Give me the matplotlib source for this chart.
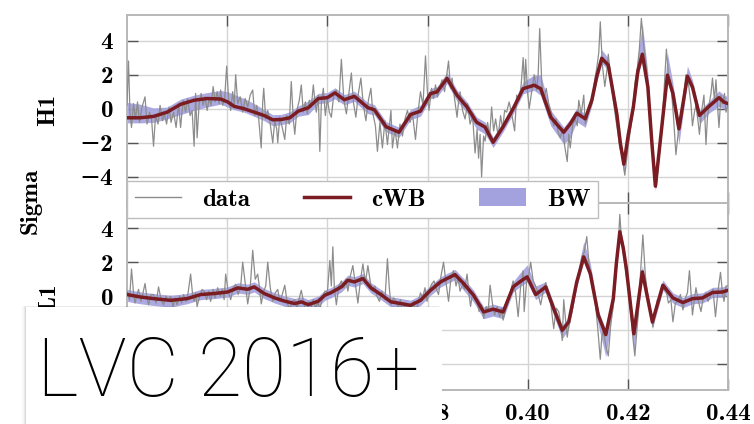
import numpy as np
import matplotlib
matplotlib.use("Agg")
import matplotlib.pyplot as plt
from matplotlib.patches import Rectangle, Patch
from matplotlib.lines import Line2D

plt.rcParams["font.family"] = ["cmb10", "DejaVu Serif"]
plt.rcParams["axes.formatter.use_mathtext"] = False
plt.rcParams["axes.unicode_minus"] = True

# ---------------- H1 ----------------
h1_cwb_t = [0.3200, 0.3226, 0.3253, 0.3280, 0.3307, 0.3334, 0.3360, 0.3387, 0.3401, 0.3414,
            0.3434, 0.3454, 0.3474, 0.3491, 0.3508, 0.3525, 0.3542, 0.3562, 0.3582, 0.3600,
            0.3615, 0.3634, 0.3654, 0.3681, 0.3694, 0.3717, 0.3743, 0.3766, 0.3786, 0.3806,
            0.3819, 0.3839, 0.3859, 0.3879, 0.3898, 0.3915, 0.3931, 0.3951, 0.3971, 0.3991,
            0.4013, 0.4026, 0.4046, 0.4072, 0.4085, 0.4098, 0.4115, 0.4128, 0.4138, 0.4148,
            0.4161, 0.4178, 0.4185, 0.4192, 0.4201, 0.4211, 0.4220, 0.4229, 0.4240, 0.4248,
            0.4255, 0.4267, 0.4279, 0.4290, 0.4302, 0.4319, 0.4329, 0.4343, 0.4362, 0.4382,
            0.4392, 0.4400]
h1_cwb = [-0.53, -0.53, -0.45, -0.20, 0.26, 0.50, 0.60, 0.57, 0.40, 0.14,
          0.00, -0.20, -0.40, -0.65, -0.63, -0.53, -0.14, 0.06, 0.60, 0.65,
          0.93, 0.53, 0.73, 0.06, -0.06, -1.05, -1.38, -0.34, -0.14, 0.89,
          0.99, 1.78, 0.79, 0.10, -0.79, -1.08, -1.97, -1.05, 0.00, 1.18,
          1.38, 1.18, -0.49, -1.38, -0.89, -0.26, -0.59, 0.49, 1.90, 2.96,
          2.56, -0.30, -2.00, -3.25, -1.50, 0.10, 2.20, 3.20, 1.28, -2.00,
          -4.54, -1.28, 1.97, 0.89, -1.18, 1.91, 1.28, -0.39, 0.14, 0.65,
          0.39, 0.30]
h1_bw_up = [0.9, 0.8, 0.5, 0.3, 0.3, 0.3, 0.35, 0.5, 0.6, 0.7,
            0.6, 0.5, 0.35, 0.3, 0.3, 0.35, 0.3, 0.4, 0.3, 0.3,
            0.3, 0.3, 0.3, 0.3, 0.3, 0.3, 0.3, 0.3, 0.35, 0.3,
            0.3, 0.35, 0.3, 0.3, 0.3, 0.3, 0.3, 0.3, 0.3, 0.4,
            0.6, 0.8, 0.4, 0.3, 0.3, 0.3, 0.3, 0.4, 0.5, 0.5,
            0.4, 0.3, 0.3, 0.3, 0.3, 0.4, 0.9, 1.8, 0.8, 0.3,
            0.3, 0.4, 1.3, 0.6, 0.3, 0.6, 0.4, 0.3, 0.3, 0.4,
            0.4, 0.4]
h1_bw_dn = [0.3, 0.3, 0.35, 0.4, 0.6, 0.6, 0.5, 0.3, 0.3, 0.2,
            0.2, 0.25, 0.3, 0.35, 0.3, 0.3, 0.3, 0.4, 0.3, 0.3,
            0.35, 0.3, 0.3, 0.35, 0.3, 0.3, 0.3, 0.3, 0.3, 0.3,
            0.3, 0.3, 0.35, 0.35, 0.4, 0.4, 0.3, 0.3, 0.3, 0.3,
            0.3, 0.4, 0.5, 0.7, 0.8, 0.5, 0.5, 0.3, 0.3, 0.3,
            0.3, 0.4, 0.6, 0.6, 0.4, 0.3, 0.3, 0.3, 0.3, 0.4,
            0.3, 0.3, 0.3, 0.4, 0.9, 0.3, 0.3, 0.5, 0.4, 0.5,
            0.4, 0.4]

h1_data_t = [0.3200, 0.3203, 0.3206, 0.3209, 0.3213, 0.3217, 0.3221, 0.3225, 0.3230, 0.3236,
             0.3240, 0.3245, 0.3249, 0.3253, 0.3257, 0.3262, 0.3266, 0.3271, 0.3275, 0.3279,
             0.3284, 0.3288, 0.3293, 0.3298, 0.3303, 0.3307, 0.3312, 0.3317, 0.3321, 0.3326,
             0.3330, 0.3334, 0.3337, 0.3340, 0.3344, 0.3348, 0.3352, 0.3356, 0.3360, 0.3364,
             0.3368, 0.3372, 0.3376, 0.3380, 0.3384, 0.3387, 0.3391, 0.3395, 0.3399, 0.3403,
             0.3407, 0.3411, 0.3414, 0.3417, 0.3421, 0.3426, 0.3431, 0.3436, 0.3441, 0.3446,
             0.3451, 0.3455, 0.3459, 0.3463, 0.3468, 0.3471, 0.3473, 0.3477, 0.3481, 0.3486,
             0.3491, 0.3495, 0.3499, 0.3501, 0.3505, 0.3510, 0.3515, 0.3519, 0.3524, 0.3528,
             0.3532, 0.3535, 0.3539, 0.3544, 0.3548, 0.3552, 0.3556, 0.3560, 0.3564, 0.3568,
             0.3572, 0.3575, 0.3578, 0.3582, 0.3585, 0.3588, 0.3592, 0.3596, 0.3600, 0.3604,
             0.3608, 0.3613, 0.3618, 0.3623, 0.3628, 0.3633, 0.3638, 0.3643, 0.3648, 0.3652,
             0.3657, 0.3662, 0.3667, 0.3672, 0.3677, 0.3682, 0.3687, 0.3691, 0.3696, 0.3700,
             0.3705, 0.3710, 0.3715, 0.3720, 0.3724, 0.3727, 0.3730, 0.3735, 0.3740, 0.3745,
             0.3750, 0.3755, 0.3760, 0.3765, 0.3770, 0.3776, 0.3781, 0.3786, 0.3791, 0.3796,
             0.3800, 0.3803, 0.3808, 0.3812, 0.3816, 0.3820, 0.3825, 0.3829, 0.3834, 0.3838,
             0.3842, 0.3846, 0.3849, 0.3854, 0.3859, 0.3862, 0.3865, 0.3870, 0.3875, 0.3880,
             0.3885, 0.3890, 0.3895, 0.3899, 0.3902, 0.3905, 0.3908, 0.3912, 0.3915, 0.3920,
             0.3924, 0.3928, 0.3932, 0.3936, 0.3941, 0.3946, 0.3950, 0.3954, 0.3958, 0.3963,
             0.3968, 0.3974, 0.3978, 0.3983, 0.3987, 0.3991, 0.3994, 0.3996, 0.4000, 0.4003,
             0.4008, 0.4013, 0.4018, 0.4021, 0.4024, 0.4028, 0.4032, 0.4037, 0.4042, 0.4047,
             0.4052, 0.4057, 0.4061, 0.4065, 0.4070, 0.4074, 0.4079, 0.4082, 0.4085, 0.4090,
             0.4095, 0.4099, 0.4102, 0.4107, 0.4112, 0.4115, 0.4118, 0.4123, 0.4128, 0.4133,
             0.4138, 0.4142, 0.4145, 0.4149, 0.4154, 0.4158, 0.4161, 0.4166, 0.4171, 0.4176,
             0.4180, 0.4184, 0.4189, 0.4194, 0.4199, 0.4204, 0.4209, 0.4214, 0.4219, 0.4223,
             0.4227, 0.4232, 0.4237, 0.4242, 0.4247, 0.4252, 0.4257, 0.4262, 0.4267, 0.4272,
             0.4277, 0.4281, 0.4286, 0.4291, 0.4296, 0.4301, 0.4306, 0.4311, 0.4316, 0.4320,
             0.4323, 0.4326, 0.4329, 0.4333, 0.4336, 0.4340, 0.4343, 0.4347, 0.4352, 0.4356,
             0.4359, 0.4362, 0.4366, 0.4369, 0.4373, 0.4376, 0.4379, 0.4382, 0.4386, 0.4389,
             0.4393, 0.4396, 0.4400]
h1_data = [0.2, 2.8, -0.3, -1.1, 0.3, -0.6, 0.4, -0.8, 0.1, 0.7,
           -0.9, -0.2, -0.6, -2.2, -0.4, -0.9, 0.2, -0.7, -0.3, -0.9,
           0.1, -0.8, -0.2, -1.1, 0.3, -1.1, 0.5, -0.2, 0.6, -0.4,
           -0.1, -2.2, 0.9, -1.7, 0.3, 0.9, 0.2, 0.7, -0.1, 0.6,
           0.2, 1.3, 0.4, 1.0, 0.3, 1.1, 0.2, 0.6, 2.5, 0.5,
           -0.1, 1.0, 0.2, 2.0, 0.3, 0.7, -0.2, 0.6, 0.1, 0.8,
           1.1, -0.4, 0.2, -0.6, -2.3, 0.4, 1.2, -0.6, -0.1, -0.9,
           -2.0, -0.7, -1.2, -2.0, -0.5, -1.1, -1.8, -0.4, -0.9, 1.6,
           -0.6, -1.5, -0.1, 0.5, 1.4, -0.2, 0.4, -0.3, 0.5, 0.1,
           1.4, 0.5, -0.2, 0.8, -2.5, 0.3, 1.2, -0.4, 0.6, -0.2,
           -0.5, 0.9, 1.1, 0.4, 2.9, 0.5, -0.3, 0.9, 2.1, 0.4,
           -0.5, 0.9, 1.8, 0.2, -0.7, 0.5, 1.2, -0.3, -1.0, -2.5,
           -0.8, -2.3, -0.7, -2.1, -1.0, -0.1, -2.3, -1.2, -2.3, -0.9,
           -1.6, -0.6, -0.1, -0.8, -0.3, -1.8, -0.2, 1.0, 0.2, 3.1,
           0.9, -0.1, 1.2, 0.6, 1.4, 0.7, 1.3, 1.7, 1.0, 1.9,
           2.8, 1.2, 1.8, 0.6, -0.5, 0.4, 1.0, -0.1, -0.6, 0.3,
           -0.9, -0.4, -2.6, -1.2, -2.9, -1.5, -4.0, -1.6, -1.9, -0.8,
           -1.6, 0.1, -1.3, -0.6, -1.6, -0.4, -1.2, -0.1, -0.2, 0.4,
           -0.3, -1.3, 0.8, 0.5, 1.4, 3.0, 1.2, 2.9, 0.9, 0.0,
           1.0, 2.0, 1.1, 2.0, 4.7, 1.6, 0.5, 1.2, 0.3, -0.2,
           -1.0, -0.6, -1.4, -1.7, -1.2, -2.2, -3.1, -1.5, -2.3, -0.9,
           -0.6, -1.0, 0.5, -0.3, 0.8, -0.9, -0.6, 0.2, 0.3, 1.5,
           2.4, 3.3, 5.1, 2.6, 1.3, 2.2, 3.2, 1.6, 0.5, -0.6,
           -1.4, -2.3, -2.8, -3.9, -2.6, -1.5, -0.4, 1.5, 2.4, 3.5,
           5.3, 3.6, 2.5, 0.4, -1.5, -3.4, -4.6, -3.0, -1.5, 0.9,
           3.5, 2.0, 1.5, -0.4, -2.7, -1.3, -0.8, 0.6, 2.0, 1.7,
           1.0, 0.3, -1.0, -0.2, 0.2, -0.7, -1.5, -0.2, 0.8, -2.1,
           -0.5, 0.2, 0.9, 1.8, 0.5, 1.7, 0.2, -1.1, 0.8, 0.3,
           0.9, -0.2, 0.2]

# ---------------- L1 ----------------
l1_cwb_t = [0.3200, 0.3226, 0.3253, 0.3287, 0.3320, 0.3347, 0.3374, 0.3401, 0.3421, 0.3441,
            0.3454, 0.3474, 0.3495, 0.3515, 0.3535, 0.3548, 0.3562, 0.3582, 0.3595, 0.3608,
            0.3628, 0.3641, 0.3654, 0.3671, 0.3687, 0.3707, 0.3727, 0.3747, 0.3766, 0.3786,
            0.3806, 0.3826, 0.3839, 0.3855, 0.3872, 0.3892, 0.3912, 0.3931, 0.3951, 0.3971,
            0.3984, 0.3999, 0.4016, 0.4036, 0.4052, 0.4069, 0.4082, 0.4098, 0.4112, 0.4125,
            0.4141, 0.4156, 0.4171, 0.4177, 0.4184, 0.4191, 0.4197, 0.4212, 0.4229, 0.4249,
            0.4270, 0.4290, 0.4310, 0.4329, 0.4349, 0.4369, 0.4389, 0.4400]
l1_cwb = [0.10, -0.04, -0.14, -0.24, -0.14, 0.10, 0.16, 0.25, 0.49, 0.41,
          0.55, 0.16, -0.10, -0.29, -0.43, -0.33, -0.49, -0.29, 0.06, 0.22,
          0.55, 0.94, 0.84, 1.04, 0.49, 0.10, -0.33, -0.43, -0.53, -0.24,
          0.35, 0.84, 1.04, 1.27, 0.75, 0.06, -0.92, -0.76, -0.92, 0.55,
          0.84, 1.14, 0.10, 0.55, -0.73, -2.00, -1.51, 0.84, 2.31, 1.33,
          -1.12, -2.25, -0.14, 1.90, 3.78, 2.80, 1.63, -2.20, 1.43, -1.51,
          0.65, -0.10, -0.37, -0.14, -0.10, 0.22, 0.25, 0.35]
l1_bw_up = [0.3, 0.3, 0.3, 0.3, 0.3, 0.3, 0.3, 0.3, 0.3, 0.3,
            0.3, 0.3, 0.3, 0.3, 0.3, 0.3, 0.3, 0.3, 0.3, 0.3,
            0.3, 0.3, 0.3, 0.3, 0.3, 0.3, 0.3, 0.3, 0.3, 0.3,
            0.3, 0.3, 0.3, 0.3, 0.3, 0.3, 0.3, 0.3, 0.3, 0.3,
            0.5, 0.7, 0.5, 0.3, 0.3, 0.3, 0.3, 0.4, 0.9, 0.6,
            0.3, 0.3, 0.3, 0.4, 0.4, 0.3, 0.3, 0.3, 0.4, 0.3,
            0.3, 0.3, 0.3, 0.3, 0.3, 0.3, 0.3, 0.3]
l1_bw_dn = [0.4, 0.4, 0.4, 0.4, 0.3, 0.3, 0.3, 0.3, 0.3, 0.3,
            0.3, 0.3, 0.3, 0.3, 0.3, 0.3, 0.3, 0.3, 0.3, 0.3,
            0.3, 0.3, 0.3, 0.3, 0.3, 0.3, 0.3, 0.3, 0.3, 0.3,
            0.3, 0.3, 0.3, 0.3, 0.4, 0.4, 0.4, 0.4, 0.4, 0.3,
            0.3, 0.3, 0.3, 0.3, 0.4, 0.5, 0.4, 0.3, 0.3, 0.3,
            0.6, 1.3, 0.5, 0.3, 0.3, 0.3, 0.3, 1.0, 0.3, 0.4,
            0.3, 0.3, 0.3, 0.3, 0.3, 0.3, 0.3, 0.3]

l1_data_t = [0.3200, 0.3205, 0.3209, 0.3213, 0.3216, 0.3220, 0.3223, 0.3228, 0.3232, 0.3236,
             0.3240, 0.3243, 0.3248, 0.3253, 0.3258, 0.3263, 0.3268, 0.3273, 0.3278, 0.3282,
             0.3287, 0.3292, 0.3296, 0.3300, 0.3305, 0.3309, 0.3313, 0.3318, 0.3322, 0.3327,
             0.3331, 0.3334, 0.3337, 0.3340, 0.3345, 0.3350, 0.3354, 0.3359, 0.3363, 0.3367,
             0.3372, 0.3376, 0.3381, 0.3386, 0.3390, 0.3394, 0.3397, 0.3402, 0.3407, 0.3412,
             0.3417, 0.3422, 0.3427, 0.3431, 0.3436, 0.3441, 0.3446, 0.3451, 0.3456, 0.3461,
             0.3465, 0.3468, 0.3473, 0.3477, 0.3481, 0.3486, 0.3491, 0.3496, 0.3501, 0.3505,
             0.3510, 0.3515, 0.3520, 0.3525, 0.3530, 0.3535, 0.3540, 0.3544, 0.3548, 0.3553,
             0.3558, 0.3563, 0.3568, 0.3572, 0.3577, 0.3581, 0.3585, 0.3590, 0.3595, 0.3600,
             0.3605, 0.3608, 0.3611, 0.3614, 0.3618, 0.3623, 0.3628, 0.3633, 0.3637, 0.3641,
             0.3646, 0.3651, 0.3656, 0.3661, 0.3666, 0.3671, 0.3676, 0.3681, 0.3686, 0.3690,
             0.3695, 0.3699, 0.3704, 0.3709, 0.3715, 0.3720, 0.3724, 0.3727, 0.3732, 0.3737,
             0.3742, 0.3746, 0.3750, 0.3755, 0.3759, 0.3763, 0.3768, 0.3772, 0.3776, 0.3781,
             0.3786, 0.3790, 0.3795, 0.3799, 0.3804, 0.3808, 0.3813, 0.3818, 0.3822, 0.3827,
             0.3832, 0.3837, 0.3842, 0.3847, 0.3852, 0.3857, 0.3861, 0.3865, 0.3870, 0.3874,
             0.3879, 0.3883, 0.3886, 0.3890, 0.3894, 0.3898, 0.3903, 0.3908, 0.3912, 0.3917,
             0.3921, 0.3925, 0.3930, 0.3934, 0.3939, 0.3944, 0.3948, 0.3951, 0.3956, 0.3961,
             0.3966, 0.3971, 0.3976, 0.3981, 0.3986, 0.3991, 0.3993, 0.3998, 0.4002, 0.4006,
             0.4011, 0.4016, 0.4021, 0.4026, 0.4031, 0.4036, 0.4041, 0.4046, 0.4052, 0.4057,
             0.4062, 0.4066, 0.4069, 0.4072, 0.4076, 0.4079, 0.4084, 0.4088, 0.4093, 0.4098,
             0.4103, 0.4108, 0.4113, 0.4118, 0.4123, 0.4128, 0.4132, 0.4135, 0.4140, 0.4145,
             0.4148, 0.4151, 0.4156, 0.4161, 0.4166, 0.4171, 0.4176, 0.4180, 0.4184, 0.4187,
             0.4191, 0.4196, 0.4201, 0.4206, 0.4210, 0.4214, 0.4218, 0.4221, 0.4225, 0.4230,
             0.4235, 0.4240, 0.4245, 0.4250, 0.4255, 0.4259, 0.4263, 0.4268, 0.4272, 0.4277,
             0.4281, 0.4286, 0.4290, 0.4295, 0.4300, 0.4305, 0.4310, 0.4315, 0.4319, 0.4323,
             0.4326, 0.4329, 0.4333, 0.4336, 0.4341, 0.4346, 0.4351, 0.4356, 0.4360, 0.4365,
             0.4370, 0.4375, 0.4380, 0.4385, 0.4389, 0.4392, 0.4396, 0.4400]
l1_data = [0.3, -0.2, 1.6, 0.2, -0.4, 0.1, 0.4, -0.3, 0.2, 0.75,
           -0.1, -0.5, 0.1, 0.1, -0.4, 0.55, -0.2, -0.5, 0.0, -0.3,
           0.0, -0.6, -0.1, -0.5, 0.0, -0.4, 0.1, -0.3, 0.2, 1.3,
           0.1, -0.3, 0.2, -0.6, 0.0, 0.4, 0.3, -0.2, 0.3, -0.3,
           0.4, -0.1, 0.5, 0.0, 0.4, -0.2, 1.3, 0.3, -0.2, 0.5,
           0.7, 0.1, 0.6, 2.0, 0.8, -0.45, 0.5, 2.7, 1.0, 1.3,
           0.4, -0.45, 0.3, 0.6, 2.0, 0.5, -0.3, 0.2, 0.4, -0.3,
           0.1, 0.65, -0.4, -0.8, -0.3, -0.2, -0.7, -0.1, 0.35, -0.4,
           -1.0, -0.3, -0.6, -0.2, -0.7, -0.3, -0.8, -0.1, 0.3, 0.2,
           2.1, 0.6, 2.9, 0.5, -0.5, 0.6, 0.9, 0.5, 1.0, 0.3,
           1.2, 1.8, 0.7, -0.4, 0.9, 1.9, 0.8, 1.8, 0.8, 0.3,
           0.6, 0.0, -0.3, 0.3, -0.2, 2.2, 0.4, -0.5, -0.1, -0.3,
           -0.7, -0.2, -1.0, -0.4, -0.8, -0.5, -0.9, -0.3, -1.0, -0.4,
           0.2, -0.1, 0.5, -0.3, 0.4, 0.7, 0.9, 0.4, 0.1, 1.2,
           2.0, 0.8, -0.3, 1.1, 1.5, 0.6, 1.1, 0.3, 0.7, 0.4,
           1.3, 0.1, -0.6, 0.2, -0.1, -0.2, -0.9, -0.5, -1.3, -0.6,
           -0.9, 0.65, -0.5, -1.1, -0.6, -1.2, -0.7, -1.4, -0.8, -0.3,
           0.3, 0.9, 0.2, -1.2, 0.6, 1.5, -0.9, 0.9, 1.2, 2.0,
           0.9, 0.6, 0.1, -0.5, 0.3, 0.8, 0.1, -0.4, -1.9, -0.7,
           -0.9, -1.6, -2.6, -0.2, -1.5, -2.4, -1.3, -1.0, -0.2, 0.9,
           1.4, 2.3, 2.6, 3.5, 1.7, 0.6, 0.2, -0.3, -1.9, -3.7,
           -2.4, -2.0, -2.9, -3.5, -1.6, -0.5, 1.2, 2.6, 4.8, 3.4,
           2.5, 1.4, 0.5, -1.0, -2.4, -3.5, -2.0, -1.0, 1.2, 3.6,
           1.2, 0.0, -0.9, -1.8, -1.0, -0.2, -0.3, 0.6, 0.4, 0.3,
           -0.4, -0.2, -1.5, -0.4, -0.3, 0.1, -0.8, -0.1, 0.2, 1.5,
           0.3, -1.1, -0.2, 0.5, -0.3, -0.9, 0.0, 0.2, -0.3, 0.0,
           0.4, -1.2, 0.3, 1.4, 0.2, -0.3, 0.6, 0.6]

x_ticks = [0.34, 0.36, 0.38, 0.40, 0.42, 0.44]
x_tick_labels = ["0.34", "0.36", "0.38", "0.40", "0.42", "0.44"]
y_ticks = [-4, -2, 0, 2, 4]
y_tick_labels = ["\u22124", "\u22122", "0", "2", "4"]

DATA_C = "#8c8c8c"
CWB_C = "#7a1c22"
BW_C = "#a3a1de"
GRID_C = "#d4d4d4"
SPINE_C = "#b8b8b8"
FS = 18
LFS = 18

W, H = 754, 424
fig = plt.figure(figsize=(W / 100, H / 100), dpi=100)
left, right = 127 / W, 728 / W
y_mid = 1 - 202.5 / H
ax1 = fig.add_axes([left, y_mid, right - left, (1 - 15 / H) - y_mid])
ax2 = fig.add_axes([left, 1 - 390 / H, right - left, y_mid - (1 - 390 / H)])


def panel(ax, ct, cv, up, dn, dt, dv):
    ct = np.asarray(ct)
    cv = np.asarray(cv)
    ax.fill_between(ct, cv - np.asarray(dn), cv + np.asarray(up),
                    color=BW_C, lw=0, alpha=0.9, zorder=2)
    ax.plot(dt, dv, color=DATA_C, lw=0.9, zorder=3)
    ax.plot(ct, cv, color=CWB_C, lw=2.5, zorder=4, solid_joinstyle="round")
    ax.set_xlim(0.32, 0.44)
    ax.set_ylim(-5.5, 5.5)
    ax.set_xticks(x_ticks)
    ax.set_yticks(y_ticks)
    ax.set_yticklabels(y_tick_labels)
    ax.grid(True, color=GRID_C, lw=1.0)
    ax.set_axisbelow(True)
    for s in ax.spines.values():
        s.set_color(SPINE_C)
        s.set_linewidth(1.4)
    ax.tick_params(direction="in", length=8, width=1.0, color="#555555",
                   top=True, right=True, labelsize=FS, pad=10)


panel(ax1, h1_cwb_t, h1_cwb, h1_bw_up, h1_bw_dn, h1_data_t, h1_data)
panel(ax2, l1_cwb_t, l1_cwb, l1_bw_up, l1_bw_dn, l1_data_t, l1_data)
ax1.tick_params(labelbottom=False)
ax2.set_xticklabels(x_tick_labels)
ax2.tick_params(axis="x", pad=9)

fig.text(48 / W, 1 - 110 / H, "H1", rotation=90, ha="center", va="center", fontsize=LFS)
fig.text(49 / W, 1 - 297 / H, "L1", rotation=90, ha="center", va="center", fontsize=LFS)
fig.text(31 / W, 1 - 201 / H, "Sigma", rotation=90, ha="center", va="center", fontsize=LFS)

handles = [Line2D([], [], color=DATA_C, lw=1.0),
           Line2D([], [], color=CWB_C, lw=2.5),
           Patch(facecolor=BW_C, edgecolor="none")]
leg = fig.legend(handles, ["data", "cWB", "BW"], loc="upper left",
                 bbox_to_anchor=(127 / W, 1 - 181 / H), bbox_transform=fig.transFigure,
                 ncol=3, fontsize=FS, handlelength=1.85, handletextpad=0.85,
                 columnspacing=2.15, borderpad=0.3, borderaxespad=0,
                 fancybox=False, framealpha=1.0, edgecolor="#bdbdbd")
leg.get_frame().set_linewidth(1.0)
leg.set_zorder(6)

# caption card in the lower-left corner
bx0, by0, bx1 = 26 / W, 0.0, 442 / W
bh = (H - 307) / H
for i, a in enumerate([0.07, 0.05, 0.03]):
    d = (i + 1) * 1.2
    fig.patches.append(Rectangle((bx0 - d / W, by0), bx1 - bx0, bh + d * 0.3 / H,
                                 transform=fig.transFigure, facecolor="#000000",
                                 alpha=a, edgecolor="none", zorder=9))
fig.patches.append(Rectangle((bx0, by0), bx1 - bx0, bh, transform=fig.transFigure,
                             facecolor="white", edgecolor="none", zorder=10))
fig.text(37 / W, 1 - 396 / H, "LVC 2016+", fontsize=58, family="Roboto",
         fontweight="light", ha="left", va="baseline", color="black", zorder=11)

fig.savefig("out.png", dpi=100)
